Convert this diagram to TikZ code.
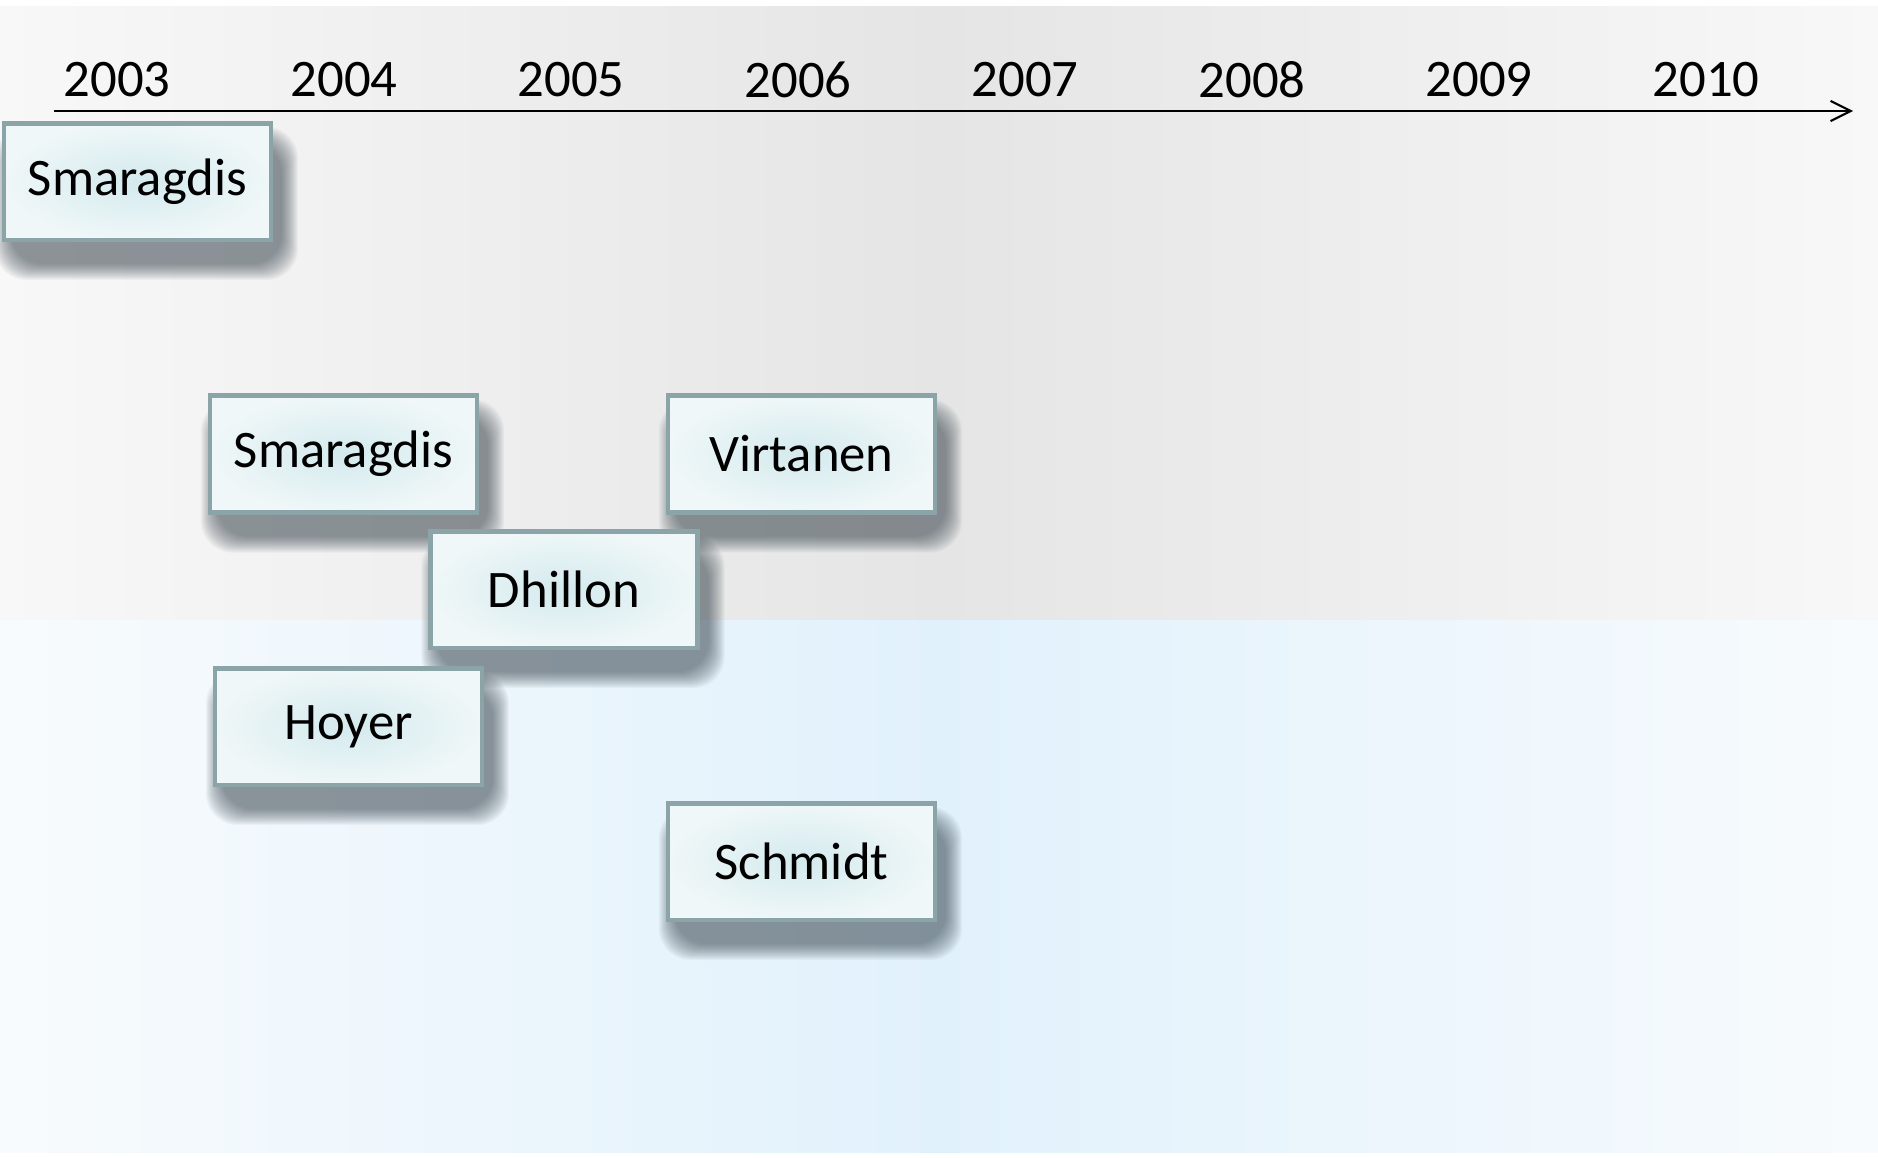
\documentclass[tikz,border=0pt]{standalone}
\usepackage{fontspec}
\setmainfont{Carlito}
\usetikzlibrary{arrows.meta, positioning}
\pgfdeclarelayer{back}
\pgfdeclarelayer{shade}
\pgfsetlayers{back,shade,main}
\definecolor{boxedge}{HTML}{8AA4A7}
\definecolor{boxin}{HTML}{D4EAEE}
\definecolor{boxout}{HTML}{EFF7F8}
\definecolor{greyside}{HTML}{F8F8F8}
\definecolor{greymid}{HTML}{E5E5E5}
\definecolor{blueside}{HTML}{F8FBFD}
\definecolor{bluemid}{HTML}{E1F1FC}
\definecolor{shadowc}{HTML}{2A3740}

\begin{document}
\begin{tikzpicture}[
  x=0.01cm, y=-0.01cm,
  paper/.style={rectangle, draw=boxedge, line width=1.3pt, fill=boxout,
    path picture={\fill[inner color=boxin, outer color=boxout]
      (path picture bounding box.south west) rectangle (path picture bounding box.north east);},
    minimum width=2.665cm, minimum height=1.165cm, font=\fontsize{15}{18}\selectfont},
  papershade/.style={fill=shadowc, opacity=0.038, rounded corners=9pt},
  year/.style={font=\fontsize{15}{18}\selectfont, inner sep=0pt},
  arr/.style={-{Straight Barb[length=5.7pt, width=5.7pt]}, line width=0.6pt}
]
\useasboundingbox (0,0) rectangle (1878,1157);
\begin{pgfonlayer}{back}
  \fill[left color=greyside, right color=greyside, middle color=greymid] (0,6) rectangle (1878,620);
  \fill[left color=blueside, right color=blueside, middle color=bluemid] (0,620) rectangle (1878,1152);
\end{pgfonlayer}

\node[year] (y03) at (117,80) {2003};
\node[year] (y04) at (344,80) {2004};
\node[year] (y05) at (571,80) {2005};
\node[year] (y06) at (798,80) {2006};
\node[year] (y07) at (1025,80) {2007};
\node[year] (y08) at (1252,80) {2008};
\node[year] (y09) at (1479,80) {2009};
\node[year] (y10) at (1706,80) {2010};

\coordinate (t0) at (54,111);
\coordinate (t1) at (1853,111);
\draw[arr] (t0) -- (t1);

\node[paper] (sma03) at (137.5,181.5) {Smaragdis};
\node[paper] (sma04) at (343.5,454) {Smaragdis};
\node[paper] (vir) at (801.5,454) {Virtanen};
\node[paper] (dhi) at (564,589.5) {Dhillon};
\node[paper] (hoy) at (348.5,726.5) {Hoyer};
\node[paper] (sch) at (801.5,861.5) {Schmidt};

% soft drop shadows
\begin{pgfonlayer}{shade}
  \foreach \n in {sma03,sma04,vir,dhi,hoy,sch}
    \foreach \k [evaluate=\k as \e using 32-3.5*\k] in {0,...,16}
      \fill[papershade] ([shift={(9-\e,22-\e)}]\n.north west) rectangle ([shift={(9+\e,22+\e)}]\n.south east);
\end{pgfonlayer}
\end{tikzpicture}
\end{document}
